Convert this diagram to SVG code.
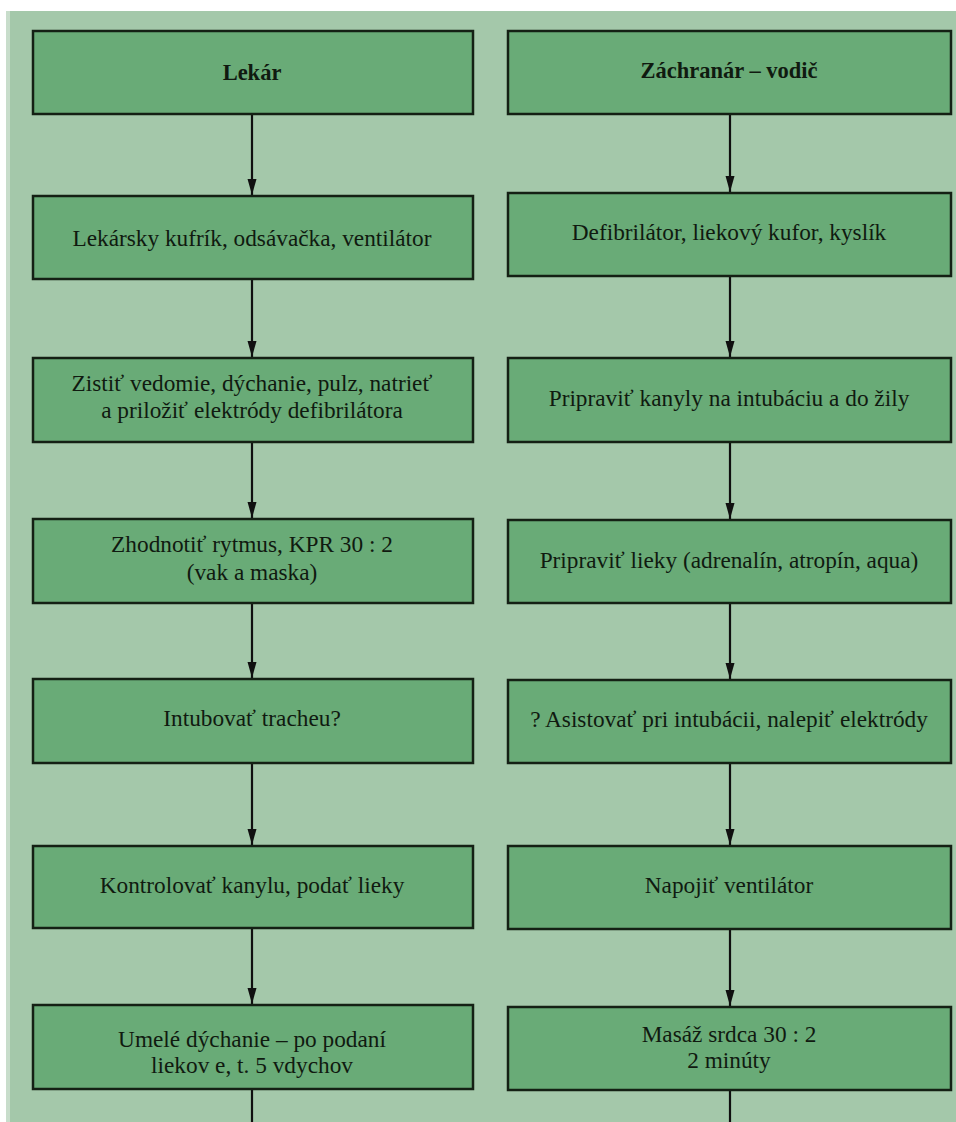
<svg xmlns="http://www.w3.org/2000/svg" width="956" height="1122" viewBox="0 0 956 1122">
<style>
.bg{fill:#a4c8aa}
.box{fill:#69ab77;stroke:#142014;stroke-width:2.5}
.t{font-family:"Liberation Serif","Times New Roman",serif;font-size:23.3px;fill:#101a10;text-anchor:middle}
.b{font-weight:bold;font-size:22.5px}
.c{stroke:#101010;stroke-width:2.2;fill:none}
</style>
<defs>
<marker id="ah" markerWidth="16" markerHeight="10" refX="16" refY="5" orient="auto" markerUnits="userSpaceOnUse" viewBox="0 0 16 10">
<path d="M0,0.5 L16,5 L0,9.5 Z" fill="#101010"/>
</marker>
</defs>
<rect x="0" y="0" width="956" height="1122" fill="#ffffff"/>
<rect x="6" y="11" width="950" height="1111" fill="#c8ddcb"/>
<rect x="10" y="11" width="946" height="1111" class="bg"/>

<g id="connectors">
<line class="c" x1="252" y1="114" x2="252" y2="195" marker-end="url(#ah)"/>
<line class="c" x1="252" y1="280" x2="252" y2="357" marker-end="url(#ah)"/>
<line class="c" x1="252" y1="443" x2="252" y2="518" marker-end="url(#ah)"/>
<line class="c" x1="252" y1="604" x2="252" y2="678" marker-end="url(#ah)"/>
<line class="c" x1="252" y1="764" x2="252" y2="845" marker-end="url(#ah)"/>
<line class="c" x1="252" y1="929" x2="252" y2="1004" marker-end="url(#ah)"/>
<line class="c" x1="252" y1="1090" x2="252" y2="1122"/>
<line class="c" x1="730" y1="114" x2="730" y2="192" marker-end="url(#ah)"/>
<line class="c" x1="730" y1="277" x2="730" y2="357" marker-end="url(#ah)"/>
<line class="c" x1="730" y1="443" x2="730" y2="519" marker-end="url(#ah)"/>
<line class="c" x1="730" y1="604" x2="730" y2="679" marker-end="url(#ah)"/>
<line class="c" x1="730" y1="764" x2="730" y2="845" marker-end="url(#ah)"/>
<line class="c" x1="730" y1="930" x2="730" y2="1006" marker-end="url(#ah)"/>
<line class="c" x1="730" y1="1091" x2="730" y2="1122"/>
</g>

<g id="L1"><rect class="box" x="33" y="31" width="440" height="83"/><text class="t b" x="252" y="80">Lekár</text></g>
<g id="L2"><rect class="box" x="33" y="196" width="440" height="83"/><text class="t" x="252" y="246">Lekársky kufrík, odsávačka, ventilátor</text></g>
<g id="L3"><rect class="box" x="33" y="358" width="440" height="84"/><text class="t" x="252" y="391">Zistiť vedomie, dýchanie, pulz, natrieť</text><text class="t" x="252" y="418">a priložiť elektródy defibrilátora</text></g>
<g id="L4"><rect class="box" x="33" y="519" width="440" height="84"/><text class="t" x="252" y="552">Zhodnotiť rytmus, KPR 30 : 2</text><text class="t" x="252" y="580">(vak a maska)</text></g>
<g id="L5"><rect class="box" x="33" y="679" width="440" height="84"/><text class="t" x="252" y="726">Intubovať tracheu?</text></g>
<g id="L6"><rect class="box" x="33" y="846" width="440" height="82"/><text class="t" x="252" y="893">Kontrolovať kanylu, podať lieky</text></g>
<g id="L7"><rect class="box" x="33" y="1005" width="440" height="84"/><text class="t" x="252" y="1047">Umelé dýchanie – po podaní</text><text class="t" x="252" y="1073">liekov e, t. 5 vdychov</text></g>

<g id="R1"><rect class="box" x="508" y="31" width="443" height="83"/><text class="t b" x="729" y="78">Záchranár – vodič</text></g>
<g id="R2"><rect class="box" x="508" y="193" width="443" height="83"/><text class="t" x="729" y="240">Defibrilátor, liekový kufor, kyslík</text></g>
<g id="R3"><rect class="box" x="508" y="358" width="443" height="84"/><text class="t" x="729" y="406">Pripraviť kanyly na intubáciu a do žily</text></g>
<g id="R4"><rect class="box" x="508" y="520" width="443" height="83"/><text class="t" x="729" y="568">Pripraviť lieky (adrenalín, atropín, aqua)</text></g>
<g id="R5"><rect class="box" x="508" y="680" width="443" height="83"/><text class="t" x="729" y="727">? Asistovať pri intubácii, nalepiť elektródy</text></g>
<g id="R6"><rect class="box" x="508" y="846" width="443" height="83"/><text class="t" x="729" y="893">Napojiť ventilátor</text></g>
<g id="R7"><rect class="box" x="508" y="1007" width="443" height="83"/><text class="t" x="729" y="1042">Masáž srdca 30 : 2</text><text class="t" x="729" y="1068">2 minúty</text></g>
</svg>
